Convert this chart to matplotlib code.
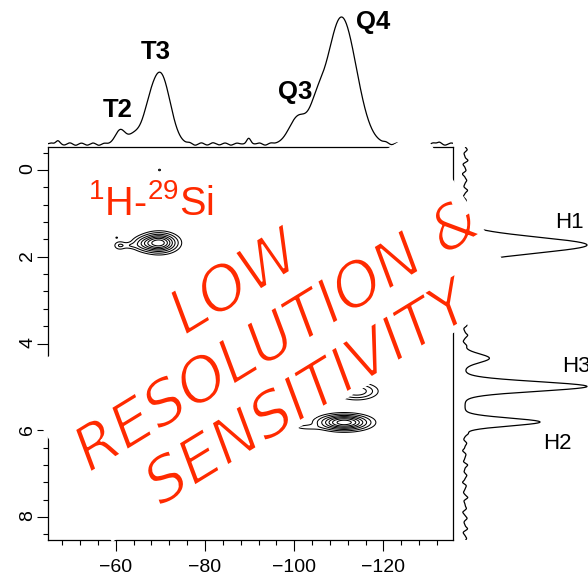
import numpy as np
import matplotlib
matplotlib.use("Agg")
import matplotlib.pyplot as plt
import matplotlib.patheffects as pe
from matplotlib.patches import Polygon
from matplotlib.ticker import MultipleLocator

# --- 29Si projection (top): peak position [ppm], height, width [ppm]
si_pos = [-61.0, -64.0, -67.2, -70.1, -100.9, -105.0, -110.6]
si_amp = [11, 7, 14, 54, 21, 17, 100]
si_sig = [1.1, 1.3, 1.5, 2.1, 2.0, 1.5, 3.3]
# baseline ripples of the 29Si trace
si_rip_pos = [-45.5, -47.0, -48.4, -49.7, -51.0, -52.3, -53.6, -54.9, -56.2, -57.5,
              -76.5, -77.8, -79.2, -80.5, -81.8, -83.2, -84.5, -85.8, -87.2, -89.8,
              -92.2, -93.5, -94.8, -120.5, -121.8, -123.2, -124.5, -125.8, -127.2,
              -128.5, -129.8, -131.2, -132.5, -133.8, -135.2]
si_rip_amp = [0.8, 2.6, -0.8, 0.9, -1.0, 0.7, -0.9, 0.8, -1.0, 0.6,
              0.8, -1.0, 0.9, -0.8, 1.0, -0.7, 0.8, -0.9, 0.7, 4.5,
              0.8, -0.9, 0.7, 0.8, -0.8, 0.9, -1.0, 0.8, -0.9,
              1.0, -0.8, 0.9, 1.5, -0.9, 0.8]
si_labels = ["T2", "T3", "Q3", "Q4"]
si_label_x = [-60.45, -68.98, -100.18, -117.7]
si_label_y = [26.8, 72.4, 40.9, 96.0]

# --- 1H projection (right)
h_pos = [1.73, 4.34, 4.99, 5.81]
h_amp = [100, 20, 100, 61.5]
h_sig = [0.18, 0.10, 0.11, 0.09]
h_rip_pos = [-0.47, -0.38, -0.22, -0.13, 0.01, 0.09, 0.24, 0.38, 0.47, 0.61, 0.70,
             3.58, 3.66, 3.81, 3.95, 4.05,
             6.08, 6.21, 6.30, 6.47, 6.56, 6.72, 6.80, 6.95, 7.04, 7.20, 7.28,
             7.43, 7.55, 7.63, 7.80, 7.89, 8.03, 8.12, 8.27, 8.36, 8.49]
h_rip_amp = [1.8, -0.8, 2.4, -1.6, 0.9, -2.2, 1.4, -0.9, 2.1, -1.3, 1.0,
             1.6, -1.0, 2.2, -1.4, 1.1,
             2.0, -1.0, 1.4, -1.9, 0.8, -1.3, 2.2, -0.8, 1.5, -2.0, 1.1,
             -1.2, 2.3, -0.9, 1.2, -1.8, 1.7, -0.8, 2.1, -1.5, 1.3]
h_labels = ["H1", "H3", "H2"]
h_label_x = [73.8, 79.5, 63.9]
h_label_y = [1.22, 4.53, 6.31]

# --- 2D cross peaks: 29Si ppm, 1H ppm, amplitude, widths
cp_si = [-69.7, -66.5, -63.2, -60.9, -111.2, -103.0, -114.0, -69.8, -60.2]
cp_h = [1.68, 1.70, 1.74, 1.74, 5.82, 5.93, 5.10, 0.0, 1.56]
cp_amp = [1.0, 0.22, 0.075, 0.1, 1.0, 0.06, 0.3, 0.06, 0.06]
cp_sx = [2.0, 1.6, 1.2, 0.8, 2.8, 2.2, 2.4, 0.25, 0.2]
cp_sy = [0.11, 0.09, 0.045, 0.06, 0.09, 0.04, 0.1, 0.02, 0.015]
levels = [0.04, 0.1, 0.2, 0.33, 0.48, 0.65, 0.85]

red = "#ff2a00"
W, H = 588, 576
plt.rcParams["mathtext.fontset"] = "custom"
plt.rcParams["mathtext.rm"] = "Liberation Sans"

fig = plt.figure(figsize=(W / 100, H / 100), dpi=100)
ax = fig.add_axes([48 / W, 36 / H, 405 / W, 393 / H])
ax_t = fig.add_axes([48 / W, 429 / H, 405 / W, 147 / H])
ax_r = fig.add_axes([462 / W, 36 / H, 126 / W, 393 / H])

# 2D contour map
si_grid = np.linspace(-44, -137, 700)
h_grid = np.linspace(-0.7, 8.7, 1400)
X, Y = np.meshgrid(si_grid, h_grid)
Z = np.zeros_like(X)
for p, q, a, sx, sy in zip(cp_si, cp_h, cp_amp, cp_sx, cp_sy):
    Z += a * np.exp(-(X - p) ** 2 / (2 * sx ** 2) - (Y - q) ** 2 / (2 * sy ** 2))
ax.contour(X, Y, Z, levels=levels, colors="k", linewidths=0.75)
ax.set_xlim(-44.8, -135.6)
ax.set_ylim(8.53, -0.53)
ax.xaxis.set_major_locator(MultipleLocator(20))
ax.xaxis.set_minor_locator(MultipleLocator(4))
ax.yaxis.set_major_locator(MultipleLocator(2))
ax.yaxis.set_minor_locator(MultipleLocator(0.4))
ax.tick_params(which="major", direction="out", length=8, width=0.8)
ax.tick_params(which="minor", direction="out", length=3.5, width=0.8)
ax.tick_params(axis="x", labelsize=14, pad=6)
ax.tick_params(axis="y", labelsize=14, labelrotation=90, pad=0.5)
for lab in ax.get_xticklabels() + ax.get_yticklabels():
    lab.set_family("Liberation Sans")
for s in ax.spines.values():
    s.set_linewidth(0.9)

# top projection
si_axis = np.linspace(-44.8, -135.6, 2000)
si_trace = np.zeros_like(si_axis)
for p, a, s in zip(si_pos, si_amp, si_sig):
    si_trace += a * np.exp(-(si_axis - p) ** 2 / (2 * s ** 2))
for p, a in zip(si_rip_pos, si_rip_amp):
    si_trace += a * np.exp(-(si_axis - p) ** 2 / (2 * 0.45 ** 2))
ax_t.plot(si_axis, si_trace, color="k", lw=0.9)
ax_t.set_xlim(-44.8, -135.6)
ax_t.set_ylim(-2.36, 113.4)
ax_t.axis("off")
for t, x, y in zip(si_labels, si_label_x, si_label_y):
    ax_t.text(x, y, t, ha="center", va="center", fontsize=18.5,
              fontweight="bold", family="Liberation Sans")

# right projection
h_axis = np.linspace(-0.6, 8.7, 4000)
h_trace = np.zeros_like(h_axis)
for p, a, s in zip(h_pos, h_amp, h_sig):
    h_trace += a * np.exp(-(h_axis - p) ** 2 / (2 * s ** 2))
for p, a in zip(h_rip_pos, h_rip_amp):
    h_trace += a * np.exp(-(h_axis - p) ** 2 / (2 * 0.032 ** 2))
ax_r.plot(h_trace, h_axis, color="k", lw=0.9)
ax_r.set_xlim(-2.46, 100.8)
ax_r.set_ylim(8.53, -0.53)
ax_r.axis("off")
for t, x, y in zip(h_labels, h_label_x, h_label_y):
    ax_r.text(x, y, t, ha="left", va="center", fontsize=16,
              family="Liberation Sans", clip_on=False)

# white band under the stamp text (cuts frame and traces)
corners = [(12, 379), (421, 128), (522, 291), (112, 542)]
fig.add_artist(Polygon([(x / W, 1 - y / H) for x, y in corners],
                       closed=True, facecolor="white", edgecolor="none",
                       transform=fig.transFigure, zorder=2))

# stamp text
stamp = [("LOW", 245, 299), ("RESOLUTION &", 287, 352), ("SENSITIVITY", 318, 410)]
thin = [pe.Normal(), pe.Stroke(linewidth=1.3, foreground="white")]
for t, x, y in stamp:
    fig.text(x / W, 1 - y / H, t, rotation=31.5, rotation_mode="anchor",
             ha="center", va="baseline", color=red, fontsize=44,
             family="DejaVu Sans", style="oblique", zorder=5, path_effects=thin)

# 1H-29Si label
fig.text(88 / W, 1 - 215 / H, r"$^{1}$H-$^{29}$Si", ha="left", va="baseline",
         color=red, fontsize=28.5, family="Liberation Sans", zorder=5)

fig.savefig("out.png", dpi=100)
